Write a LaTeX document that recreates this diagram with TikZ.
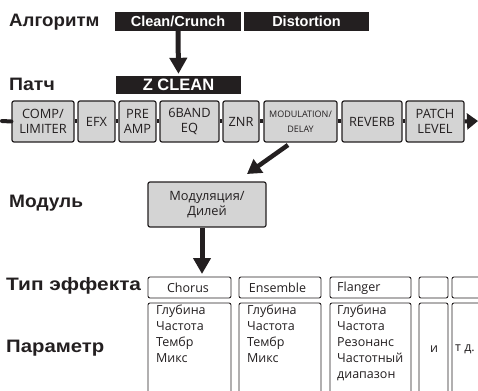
\documentclass[tikz,border=0pt]{standalone}
\usepackage{fontspec}
\setmainfont{Liberation Sans}
\newfontfamily\osans{Open Sans}
\usetikzlibrary{arrows.meta}
\definecolor{ink}{HTML}{231F20}
\definecolor{boxgray}{HTML}{D4D4D4}
\tikzset{
  lbl/.style={anchor=base west, inner sep=0, font=\bfseries\fontsize{18}{18}\selectfont, text=ink},
  bar/.style={fill=ink, text=white, inner sep=0, font=\bfseries\fontsize{14.5}{14.5}\selectfont},
  fxbox/.style={draw=ink, fill=boxgray, line width=1.2pt, rounded corners=2pt, inner sep=0, align=center,
    font=\osans\fontsize{12.8}{15.5}\selectfont, text=ink, minimum height=41pt},
  wbox/.style={draw=ink, fill=white, line width=0.9pt, rounded corners=2pt, inner sep=0},
  ptxt/.style={anchor=north west, inner sep=0, align=left, font=\osans\fontsize{12.5}{16}\selectfont, text=ink},
  chain/.style={draw=ink, line width=4pt},
  bigarrow/.style={draw=ink, line width=5pt, -{Triangle[length=16pt,width=17pt]}},
}
\begin{document}
\begin{tikzpicture}[x=1pt,y=-1pt]
\useasboundingbox (0,0) rectangle (478,390);
\clip (0,0) rectangle (478,390);
% left labels
\node[lbl] (l1) at (9,27) {\scalebox{1.04}[1]{Алгоритм}};
\node[lbl] (l2) at (9,91) {\scalebox{1.08}[1]{Патч}};
\node[lbl] (l3) at (9,207) {\scalebox{1.06}[1]{Модуль}};
\node[lbl] (l4) at (6,290) {\scalebox{1.16}[1]{Тип эффекта}};
\node[lbl] (l5) at (6,352) {\scalebox{1.13}[1]{Параметр}};
% bars
\node[bar, minimum width=126pt, minimum height=19pt] (clean) at (178,21.5) {Clean/Crunch};
\node[bar, minimum width=125pt, minimum height=19pt] (dist) at (306.5,21.5) {Distortion};
\node[bar, minimum width=125pt, minimum height=18pt, font=\bfseries\fontsize{16.5}{16.5}\selectfont] (zclean) at (178.5,85) {Z CLEAN};
\draw[bigarrow, shorten >=2pt] (clean.south) -- (zclean.north);
% chain
\node[fxbox, minimum width=62pt] (comp) at (43,121.5) {COMP/\\LIMITER};
\node[fxbox, minimum width=37pt] (efx) at (96.5,121.5) {EFX};
\node[fxbox, minimum width=37pt] (pre) at (137.5,121.5) {PRE\\AMP};
\node[fxbox, minimum width=59pt] (eq) at (189.5,121.5) {6BAND\\EQ};
\node[fxbox, minimum width=36pt] (znr) at (241,121.5) {ZNR};
\node[fxbox, minimum width=73pt, font=\osans\fontsize{9}{15}\selectfont] (mod) at (300.5,121.5) {MODULATION/\\DELAY};
\node[fxbox, minimum width=60pt] (rev) at (372,121.5) {REVERB};
\node[fxbox, minimum width=58pt] (pl) at (435,121.5) {PATCH\\LEVEL};
\coordinate (cin) at (2,121);
\coordinate (cout) at (478,121);
\draw[chain, line cap=round] (cin) -- (comp.west);
\draw[chain] (comp.east) -- (efx.west);
\draw[chain] (efx.east) -- (pre.west);
\draw[chain] (pre.east) -- (eq.west);
\draw[chain] (eq.east) -- (znr.west);
\draw[chain] (znr.east) -- (mod.west);
\draw[chain] (mod.east) -- (rev.west);
\draw[chain] (rev.east) -- (pl.west);
\draw[chain, -{Triangle[length=11pt,width=16pt]}] (pl.east) -- (cout);
% diagonal arrow to module
\coordinate (d1) at (288,145);
\coordinate (d2) at (247,174);
\draw[draw=ink, line width=4.5pt, -{Triangle[length=14pt,width=16pt]}] (d1) -- (d2);
% module
\node[fxbox, minimum width=118pt, minimum height=45pt, font=\osans\fontsize{12.8}{15}\selectfont] (modul) at (207,204.5) {Модуляция/\\Дилей};
\coordinate (a3) at (202,274);
\draw[bigarrow] ([xshift=-5pt]modul.south) -- (a3);
% type boxes
\node[wbox, minimum width=83pt, minimum height=21pt] (t1) at (189.5,287.5) {};
\node[wbox, minimum width=82pt, minimum height=21pt] (t2) at (280,287.5) {};
\node[wbox, minimum width=81pt, minimum height=21pt] (t3) at (370.5,287.5) {};
\node[wbox, minimum width=29pt, minimum height=21pt] (t4) at (433.5,287.5) {};
\node[wbox, minimum width=30pt, minimum height=21pt] (t5) at (467,287.5) {};
\node[ptxt, anchor=center] (n1) at (188,288) {Chorus};
\node[ptxt, anchor=center] (n2) at (277.5,288) {Ensemble};
\node[ptxt, anchor=west] (n3) at (337,288) {Flanger};
% param boxes
\node[wbox, minimum width=83pt, minimum height=92pt] (p1) at (189.5,349) {};
\node[wbox, minimum width=82pt, minimum height=92pt] (p2) at (280,349) {};
\node[wbox, minimum width=81pt, minimum height=92pt] (p3) at (370.5,349) {};
\node[wbox, minimum width=29pt, minimum height=92pt] (p4) at (433.5,349) {};
\node[wbox, minimum width=30pt, minimum height=92pt] (p5) at (467,349) {};
\node[ptxt] (q1) at (156,305) {Глубина\\Частота\\Тембр\\Микс};
\node[ptxt] (q2) at (247,305) {Глубина\\Частота\\Тембр\\Микс};
\node[ptxt] (q3) at (337,305) {Глубина\\Частота\\Резонанс\\Частотный\\диапазон};
\node[ptxt, anchor=center] (q4) at (434,349) {и};
\node[ptxt, anchor=west] (q5) at (455,349) {т д.};
\end{tikzpicture}
\end{document}
